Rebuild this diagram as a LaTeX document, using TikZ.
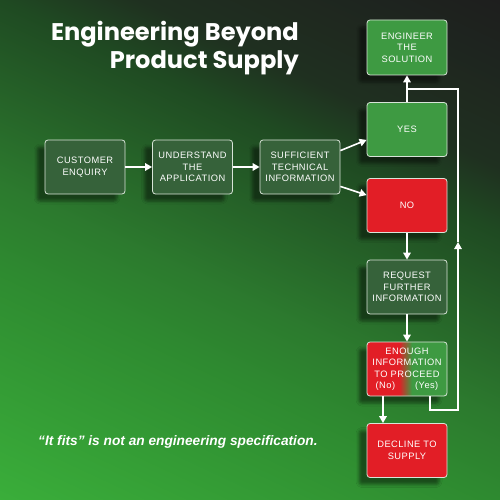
\documentclass[tikz,border=0pt]{standalone}
\usepackage{fontspec}
\setmainfont{Liberation Sans}
\newfontfamily\boxfont{Liberation Sans}[LetterSpace=5]
\newfontfamily\titlefont{Poppins}
\usetikzlibrary{arrows.meta,shadows.blur,calc}
\definecolor{boxdark}{HTML}{36623A}
\definecolor{boxgreen}{HTML}{3E9A42}
\definecolor{boxred}{HTML}{E21E26}
\definecolor{boxline}{HTML}{D8E4D8}
\definecolor{bgA}{HTML}{3AAE3A}
\definecolor{bgB}{HTML}{2E8A30}
\definecolor{bgC}{HTML}{2C7A2E}
\definecolor{bgD}{HTML}{1F4A22}
\definecolor{bgE}{HTML}{1F3020}
\definecolor{bgF}{HTML}{1E1E1E}
\pgfdeclareverticalshading{bgsh}{100bp}{color(0bp)=(bgA); color(16.8bp)=(bgA); color(37.9bp)=(bgB); color(45.2bp)=(bgC); color(62.1bp)=(bgD); color(68bp)=(bgE); color(83.2bp)=(bgF); color(100bp)=(bgF)}
\pgfdeclarehorizontalshading{rg}{100bp}{color(0bp)=(boxred); color(45bp)=(boxred); color(53bp)=(boxgreen); color(100bp)=(boxgreen)}
\begin{document}
\begin{tikzpicture}[x=1pt,y=-1pt,
  box/.style={rectangle, rounded corners=3pt, minimum width=80pt, minimum height=54pt,
    inner sep=0pt, align=center, text=white, draw=boxline, line width=0.8pt,
    font=\boxfont\fontsize{9.3}{11.5}\selectfont,
    blur shadow={shadow xshift=-8pt, shadow yshift=-7pt, shadow blur radius=3pt, shadow opacity=45}},
  dark/.style={box, fill=boxdark},
  gbox/.style={box, fill=boxgreen},
  rbox/.style={box, fill=boxred},
  arr/.style={draw=white, line width=1.6pt, -{Triangle[length=7pt,width=7.5pt]}},
  loopl/.style={draw=white, line width=1.3pt},
  titletext/.style={anchor=base east, inner sep=0pt, text=white, font=\titlefont\bfseries\fontsize{24.1}{28}\selectfont}
]
\useasboundingbox (0,0) rectangle (500,500);
\shade[shading=bgsh, shading angle=-25] (0,0) rectangle (500,500);

\node[titletext] (t1) at (299,41) {Engineering Beyond};
\node[titletext] (t2) at (299,69) {Product Supply};

\node[dark] (cust) at (85,167) {CUSTOMER\\ENQUIRY};
\node[dark] (und) at (192.5,167) {UNDERSTAND\\THE\\APPLICATION};
\node[dark] (suff) at (300,167) {SUFFICIENT\\TECHNICAL\\INFORMATION};
\node[gbox, minimum height=55pt] (eng) at (407,47.5) {ENGINEER\\THE\\SOLUTION};
\node[gbox] (yes) at (407,129.5) {YES};
\node[rbox] (no) at (407,205.5) {NO};
\node[dark] (req) at (407,287) {REQUEST\\FURTHER\\INFORMATION};
\node[box, shade, shading=rg, shading angle=0] (enough) at (407,369) {ENOUGH\\INFORMATION\\TO PROCEED\\(No)\hspace{20pt}(Yes)};
\node[rbox] (decl) at (407,450.5) {DECLINE TO\\SUPPLY};

\draw[arr] (cust) -- (und);
\draw[arr] (und) -- (suff);
\draw[arr] ($(suff.north east)+(0,11)$) -- ($(yes.south west)+(0,-17)$);
\draw[arr] ($(suff.south east)+(0,-8)$) -- ($(no.north west)+(0,17)$);
\draw[arr] (yes) -- (eng);
\draw[arr] (no) -- (req);
\draw[arr] (req) -- (enough);
\draw[arr] ($(enough.south)+(-24,0)$) -- ($(decl.north)+(-24,0)$);

\coordinate (l1) at ($(enough.south)+(23,0)$);
\coordinate (l3) at (458,410);
\coordinate (lm) at (458,242);
\coordinate (l4) at (458,89);
\coordinate (l5) at (407,89);
\draw[loopl, -{Triangle[length=7pt,width=7.5pt]}] (l1) |- (l3) -- (lm);
\draw[loopl] (lm) -- (l4) -- (l5);

\node[anchor=base west, inner sep=0pt, text=white, font=\bfseries\itshape\fontsize{13.7}{16}\selectfont] (foot) at (38,445) {“It fits” is not an engineering specification.};
\end{tikzpicture}
\end{document}
